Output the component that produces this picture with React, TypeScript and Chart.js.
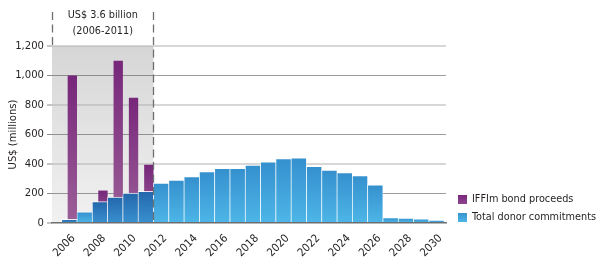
import React, { useEffect, useRef } from 'react';
import { Chart, registerables } from 'chart.js';

Chart.register(...registerables);

// ---- data ----
const years = [2006, 2007, 2008, 2009, 2010, 2011, 2012, 2013, 2014, 2015, 2016, 2017, 2018, 2019, 2020, 2021, 2022, 2023, 2024, 2025, 2026, 2027, 2028, 2029, 2030];
const donorCommitments = [25, 75, 145, 176, 203, 215, 271, 291, 314, 348, 371, 371, 393, 414, 436, 441, 384, 359, 341, 321, 258, 36, 34, 29, 18];
const bondYears = [2006, 2008, 2009, 2010, 2011];
const bondProceeds = [1000, 220, 1100, 850, 395];
const yTickValues = [0, 200, 400, 600, 800, 1000, 1200];
const xTickYears = [2006, 2008, 2010, 2012, 2014, 2016, 2018, 2020, 2022, 2024, 2026, 2028, 2030];
const seriesNames = ['IFFIm bond proceeds', 'Total donor commitments'];
const annotationLines = ['US$ 3.6 billion', '(2006-2011)'];
const bandLastYear = 2011;
const yTitle = 'US$ (millions)';

const FONT = "'DejaVu Sans Condensed', 'DejaVu Sans', sans-serif";
const FS = 11.2;
const FS_SMALL = 10.8;
const TEXT = '#231f20';

const bondSet = new Set(bondYears);

function barGradient(ctx: any, top: string, bottom: string, fallback: string) {
  const chart = ctx.chart;
  if (ctx.type !== 'data' || !chart.chartArea) return fallback;
  const ys = chart.scales.y;
  const v = ctx.raw && typeof ctx.raw === 'object' ? ctx.raw.y : ctx.parsed?.y;
  const t = ys.getPixelForValue(v);
  const b = ys.getPixelForValue(0);
  const g = chart.ctx.createLinearGradient(0, t, 0, Math.max(b, t + 1));
  g.addColorStop(0, top);
  g.addColorStop(1, bottom);
  return g;
}

const decor = {
  id: 'decor',
  afterDatasetsUpdate(chart: any) {
    const purple = chart.getDatasetMeta(0);
    const blue = chart.getDatasetMeta(1);
    const full = blue.data[0] ? blue.data[0].width : 0;
    purple.data.forEach((el: any) => {
      el.x += (full - el.width) / 2;
    });
  },
  beforeDraw(chart: any) {
    const { ctx, chartArea, scales } = chart;
    const right = scales.x.getPixelForValue(bandLastYear + 0.5);
    const top = scales.y.getPixelForValue(1200);
    const g = ctx.createLinearGradient(0, top, 0, chartArea.bottom);
    g.addColorStop(0, '#d6d6d7');
    g.addColorStop(1, '#f1f1f2');
    ctx.save();
    ctx.fillStyle = g;
    ctx.fillRect(chartArea.left, top, right - chartArea.left, chartArea.bottom - top);
    ctx.restore();
  },
  afterDraw(chart: any) {
    const { ctx, chartArea, scales } = chart;
    const left = chartArea.left;
    const right = Math.round(scales.x.getPixelForValue(bandLastYear + 0.5)) + 0.5;
    const top = scales.y.getPixelForValue(1200);
    ctx.save();
    ctx.strokeStyle = '#6d6e70';
    ctx.lineWidth = 1.3;
    ctx.setLineDash([8, 4.5]);
    ctx.beginPath();
    ctx.moveTo(left + 0.5, 12);
    ctx.lineTo(left + 0.5, top);
    ctx.moveTo(right, 12);
    ctx.lineTo(right, chartArea.bottom);
    ctx.stroke();
    ctx.setLineDash([]);

    // annotation
    ctx.fillStyle = TEXT;
    ctx.font = `${FS_SMALL}px ${FONT}`;
    ctx.textAlign = 'center';
    ctx.textBaseline = 'middle';
    const cx = (left + right) / 2;
    ctx.fillText(annotationLines[0], cx, 15.5);
    ctx.fillText(annotationLines[1], cx, 31.5);

    // legend
    const lx = 458;
    const rows = [199.5, 217.5];
    const fills = [['#7a287c', '#8c4490'], ['#3893d0', '#4db5e6']];
    rows.forEach((y, i) => {
      const g = ctx.createLinearGradient(0, y - 4.5, 0, y + 4.5);
      g.addColorStop(0, fills[i][0]);
      g.addColorStop(1, fills[i][1]);
      ctx.fillStyle = g;
      ctx.fillRect(lx, y - 4.5, 9, 9);
      ctx.fillStyle = TEXT;
      ctx.textAlign = 'left';
      ctx.fillText(seriesNames[i], 472, y);
    });
    ctx.restore();
  },
};

export default function App() {
  const ref = useRef<HTMLCanvasElement>(null);

  useEffect(() => {
    if (!ref.current) return;
    const chart = new Chart(ref.current, {
      type: 'bar',
      data: {
        datasets: [
          {
            label: seriesNames[0],
            data: bondYears.map((x, i) => ({ x, y: bondProceeds[i] })),
            order: 1,
            grouped: false,
            barPercentage: 0.61,
            categoryPercentage: 1,
            borderWidth: 0,
            backgroundColor: (c: any) => barGradient(c, '#77267a', '#9c6098', '#7a287c'),
          } as any,
          {
            label: seriesNames[1],
            data: years.map((x, i) => ({ x, y: donorCommitments[i] })),
            order: 0,
            grouped: false,
            barPercentage: 1,
            categoryPercentage: 1,
            borderWidth: { top: 1, left: 0.7, right: 0.7, bottom: 0 },
            borderColor: 'rgba(255,255,255,0.85)',
            backgroundColor: (c: any) => {
              const yr = c.raw && typeof c.raw === 'object' ? c.raw.x : 0;
              return bondSet.has(yr)
                ? barGradient(c, '#2268ab', '#3a90cf', '#2a76b8')
                : barGradient(c, '#3590ce', '#4db6e7', '#3a9ed9');
            },
          } as any,
        ],
      },
      options: {
        animation: false,
        responsive: false,
        maintainAspectRatio: false,
        layout: { padding: { top: 46, right: 154, left: 0, bottom: 0 } },
        plugins: { legend: { display: false }, tooltip: { enabled: false } },
        scales: {
          x: {
            type: 'linear',
            min: 2004.866,
            max: 2030.62,
            offset: false,
            afterBuildTicks: (s: any) => {
              s.ticks = xTickYears.map((v) => ({ value: v }));
            },
            afterFit: (s: any) => {
              s.height = 37;
            },
            grid: { display: false },
            border: { display: true, color: '#6d6e70', width: 1.5 },
            ticks: {
              minRotation: 45,
              maxRotation: 45,
              padding: 1,
              labelOffset: 4,
              color: TEXT,
              font: { family: FONT, size: FS },
              callback: (v: any) => String(v),
            },
          },
          y: {
            min: 0,
            max: 1200,
            z: 1,
            afterBuildTicks: (s: any) => {
              s.ticks = yTickValues.map((v) => ({ value: v }));
            },
            afterFit: (s: any) => {
              s.width = 52;
            },
            border: { display: false },
            grid: {
              color: (c: any) =>
                c.tick.value === 0 ? 'rgba(0,0,0,0)' : c.tick.value % 400 === 0 ? 'rgba(175,175,177,0.5)' : 'rgba(90,90,92,0.6)',
              lineWidth: (c: any) => (c.tick.value % 400 === 0 ? 2 : 1),
              tickLength: 5,
              tickColor: '#8a8b8d',
              tickWidth: 1,
            },
            ticks: {
              padding: 3,
              color: TEXT,
              font: { family: FONT, size: FS },
              callback: (v: any) => Number(v).toLocaleString('en-US'),
            },
            title: {
              display: true,
              text: yTitle,
              color: TEXT,
              font: { family: FONT, size: FS },
              padding: { top: 6, bottom: 0 },
            },
          },
        },
      },
      plugins: [decor],
    });
    return () => chart.destroy();
  }, []);

  return (
    <div style={{ position: 'fixed', left: 0, top: 0, width: 600, height: 260, background: '#fff' }}>
      <canvas ref={ref} width={600} height={260} style={{ width: 600, height: 260 }} />
    </div>
  );
}
